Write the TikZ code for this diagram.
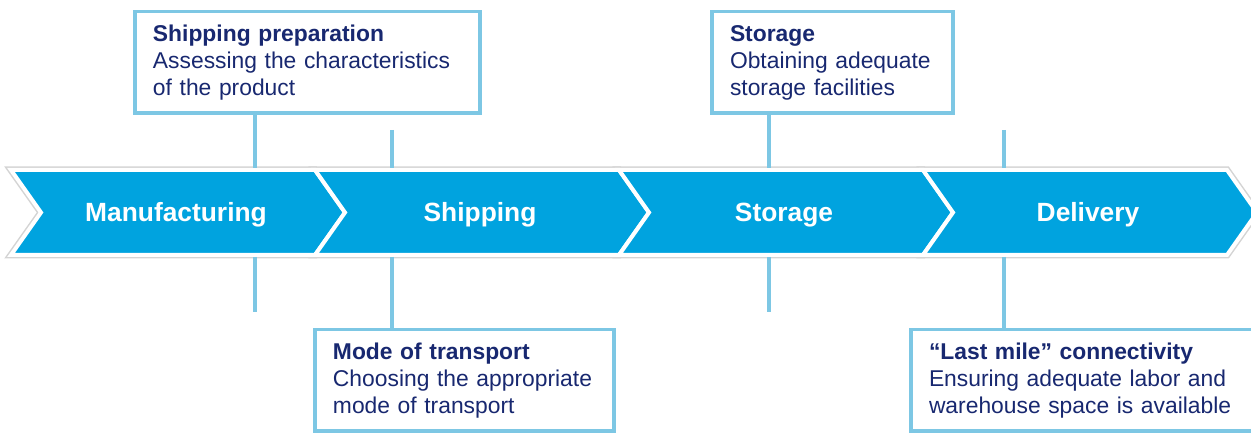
\documentclass[tikz,border=0pt]{standalone}
\usepackage{fontspec}
\setmainfont{Liberation Sans}

\definecolor{chevblue}{RGB}{0,163,223}
\definecolor{linkblue}{RGB}{125,199,228}
\definecolor{boxnavy}{RGB}{24,40,112}
\definecolor{bandgray}{RGB}{212,212,212}

\tikzset{
    steplabel/.style={text=white, anchor=base, font=\fontsize{15}{18}\selectfont\bfseries},
    infobox/.style={draw=linkblue, line width=0.07cm, fill=white, anchor=north west,
        align=left, inner xsep=0.365cm, minimum height=2.03cm, text=boxnavy,
        font=\fontsize{13}{15.4}\selectfont},
    link/.style={draw=linkblue, line width=0.07cm},
}

\begin{document}
\begin{tikzpicture}[x=0.02cm, y=0.02cm]
    \path[use as bounding box, clip] (0, 0) rectangle (1251, 435);

    % Band outline (grey edge behind the chevrons)
    \foreach \x in {11, 315, 619, 923}
        \draw [bandgray, line width=0.14cm] (\x, 265) -- ++(304, 0) -- ++(30, -42.5)
            -- ++(-30, -42.5) -- ++(-304, 0) -- ++(30, 42.5) -- cycle;

    % Chevrons
    \foreach \x/\nm/\lbl in {11/manu/Manufacturing, 315/ship/Shipping, 619/stor/Storage, 923/deli/Delivery} {
        \draw [white, line width=0.08cm, fill=chevblue] (\x, 265) -- ++(304, 0) -- ++(30, -42.5)
            -- ++(-30, -42.5) -- ++(-304, 0) -- ++(30, 42.5) -- cycle;
        \node [steplabel] (\nm) at (\x + 165, 213.5) {\lbl};
    }

    % Upper boxes
    \node [infobox, text width=6.18cm] (prep) at (133, 425)
        {\textbf{Shipping preparation}\\Assessing the characteristics\\of the product};
    \node [infobox, text width=4.1cm] (stock) at (710, 425)
        {\textbf{Storage}\\Obtaining adequate\\storage facilities};

    % Lower boxes
    \node [infobox, text width=5.26cm] (mode) at (313, 107)
        {\textbf{Mode of transport}\\Choosing the appropriate\\mode of transport};
    \node [infobox, text width=6.25cm] (lastmile) at (909, 107)
        {\textbf{“Last mile” connectivity}\\Ensuring adequate labor and\\warehouse space is available};

    % Tick points on the band edges
    \coordinate (prepdrop) at (255, 267);
    \coordinate (shipup) at (392, 267);
    \coordinate (shiptop) at (392, 305);
    \coordinate (stockdrop) at (769, 267);
    \coordinate (deliup) at (1004, 267);
    \coordinate (delitop) at (1004, 305);
    \coordinate (manudown) at (255, 178);
    \coordinate (manuend) at (255, 123);
    \coordinate (shipdown) at (392, 178);
    \coordinate (stordown) at (769, 178);
    \coordinate (storend) at (769, 123);
    \coordinate (delidown) at (1004, 178);

    % Connectors
    \draw [link] (prep.south -| prepdrop) -- (prepdrop);
    \draw [link] (shiptop) -- (shipup);
    \draw [link] (stock.south -| stockdrop) -- (stockdrop);
    \draw [link] (delitop) -- (deliup);
    \draw [link] (manudown) -- (manuend);
    \draw [link] (shipdown) -- (mode.north -| shipdown);
    \draw [link] (stordown) -- (storend);
    \draw [link] (delidown) -- (lastmile.north -| delidown);
\end{tikzpicture}
\end{document}
